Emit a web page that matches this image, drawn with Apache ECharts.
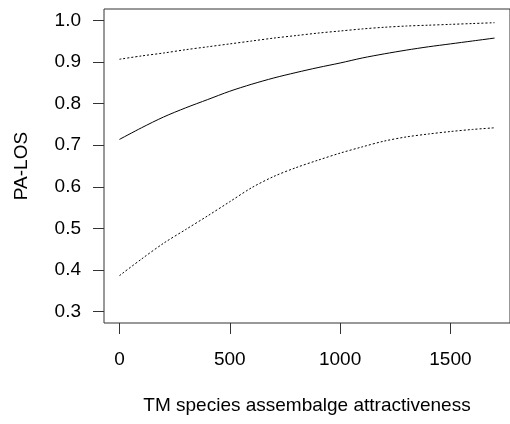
<!DOCTYPE html>
<html>
<head>
<meta charset="utf-8">
<script src="https://cdn.jsdelivr.net/npm/echarts@6/dist/echarts.min.js"></script>
<style>
html,body{margin:0;padding:0;background:#fff;}
#chart{width:510px;height:424px;}
</style>
</head>
<body>
<div id="chart"></div>
<script>
var xValues = [0,100,200,300,400,500,600,700,800,900,1000,1100,1200,1300,1400,1500,1600,1700];
var fitValues = [0.714,0.742,0.768,0.790,0.810,0.830,0.847,0.862,0.875,0.887,0.898,0.910,0.920,0.929,0.937,0.944,0.951,0.958];
var upperValues = [0.907,0.915,0.922,0.930,0.937,0.944,0.951,0.958,0.964,0.970,0.975,0.980,0.984,0.987,0.989,0.991,0.993,0.995];
var lowerValues = [0.386,0.426,0.464,0.497,0.530,0.564,0.598,0.625,0.646,0.664,0.681,0.696,0.710,0.720,0.727,0.733,0.738,0.742];
var xTicks = [0,500,1000,1500];
var yTicks = [0.3,0.4,0.5,0.6,0.7,0.8,0.9,1.0];
var xTitle = 'TM species assembalge attractiveness';
var yTitle = 'PA-LOS';

function pairs(vals){ return xValues.map(function(x,i){ return [x, vals[i]]; }); }

var font = 'Liberation Sans, Arial, sans-serif';
var chart = echarts.init(document.getElementById('chart'), null, {renderer:'canvas'});
chart.setOption({
  animation:false,
  backgroundColor:'#fff',
  grid:{left:104, top:9, right:-11, bottom:101, show:true, borderColor:'#333', borderWidth:1, containLabel:false},
  xAxis:{
    type:'value', min:-70, max:1770,
    name:xTitle, nameLocation:'middle', nameGap:73,
    nameTextStyle:{fontFamily:font, fontSize:19, color:'#000'},
    axisLine:{show:false, onZero:false},
    splitLine:{show:false},
    axisTick:{show:true, inside:false, length:11, customValues:xTicks, lineStyle:{color:'#333', width:1}},
    axisLabel:{customValues:xTicks, margin:27, fontFamily:font, fontSize:19, color:'#000',
      formatter:function(v){ return String(v); }}
  },
  yAxis:{
    type:'value', min:0.272, max:1.028,
    name:yTitle, nameLocation:'middle', nameGap:73,
    nameTextStyle:{fontFamily:font, fontSize:19, color:'#000'},
    axisLine:{show:false, onZero:false},
    splitLine:{show:false},
    axisTick:{show:true, inside:false, length:11, customValues:yTicks, lineStyle:{color:'#333', width:1}},
    axisLabel:{customValues:yTicks, margin:23, fontFamily:font, fontSize:19, color:'#000',
      formatter:function(v){ return Number(v).toFixed(1); }}
  },
  series:[
    {type:'line', data:pairs(fitValues), smooth:0.3, showSymbol:false, symbol:'none', lineStyle:{color:'#000', width:1, type:'solid'}},
    {type:'line', data:pairs(upperValues), smooth:0.3, showSymbol:false, symbol:'none', lineStyle:{color:'#000', width:1, type:[2,2]}},
    {type:'line', data:pairs(lowerValues), smooth:0.3, showSymbol:false, symbol:'none', lineStyle:{color:'#000', width:1, type:[2,2]}}
  ]
});
</script>
</body>
</html>
